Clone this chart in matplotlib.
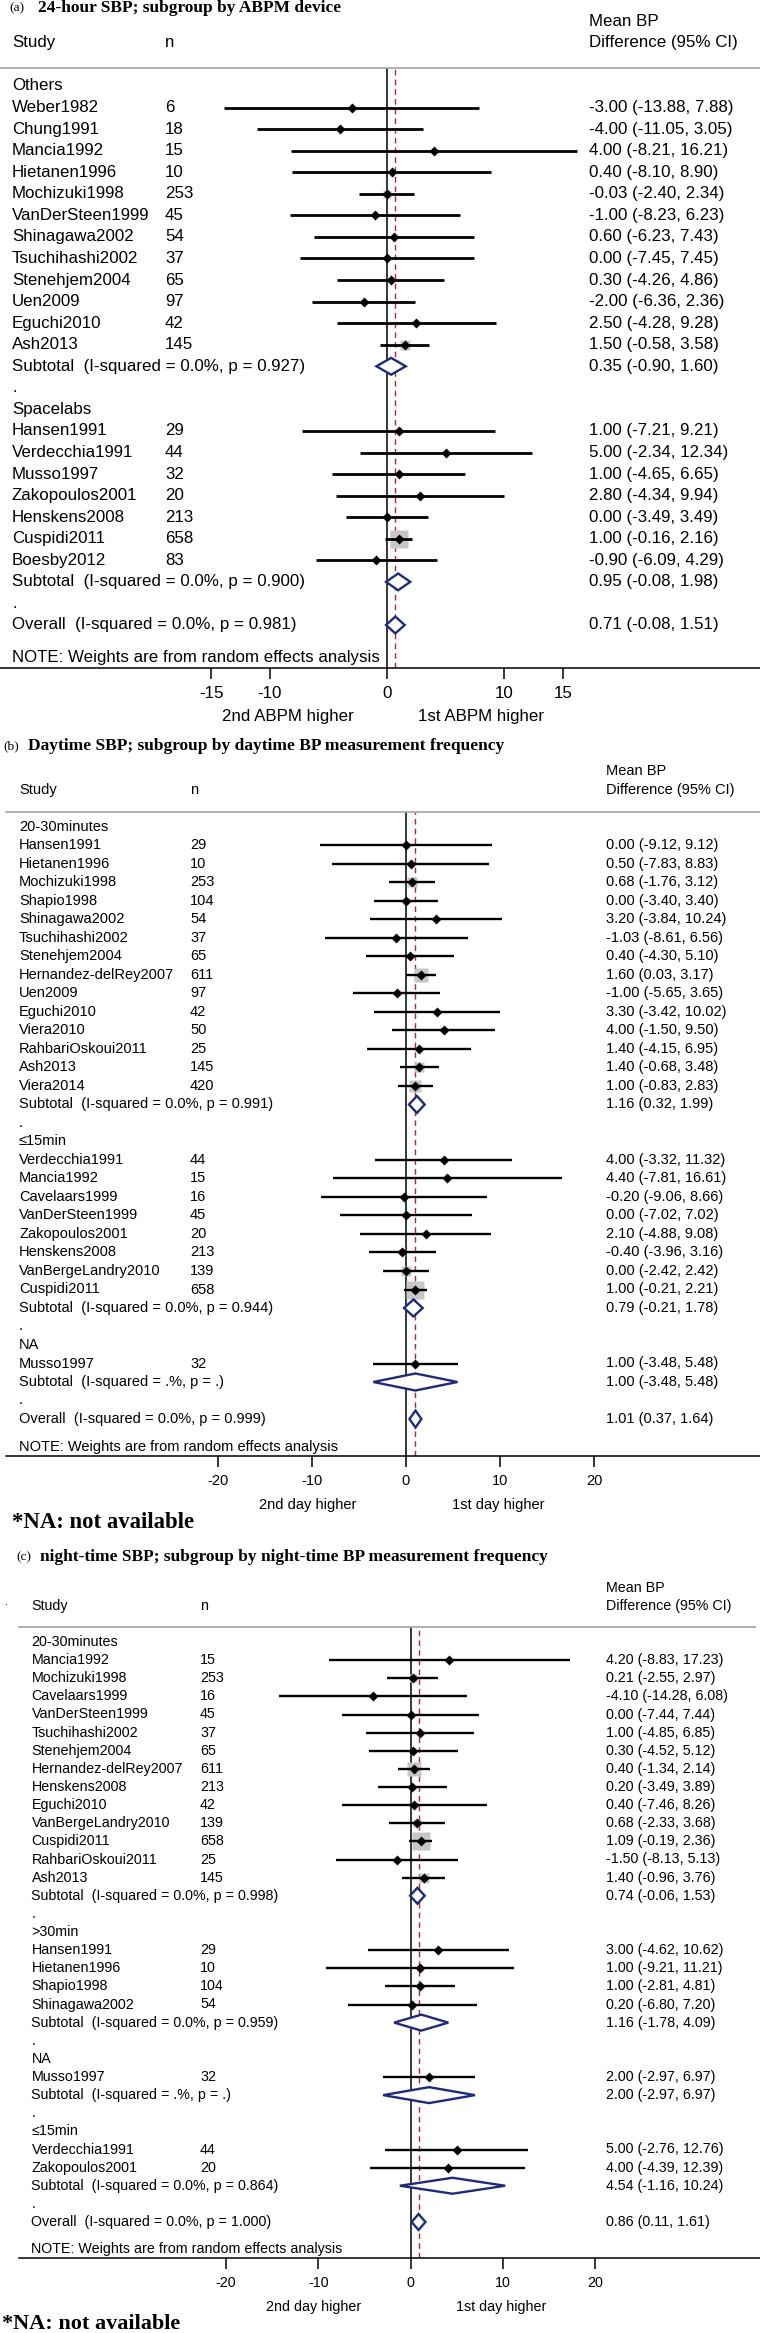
import matplotlib
matplotlib.use('Agg')
import matplotlib.pyplot as plt
from matplotlib.patches import Polygon
from matplotlib.transforms import blended_transform_factory

plt.rcParams['font.family'] = ['Liberation Sans', 'DejaVu Sans']

W, H = 760, 2333

# ---------------- data ----------------
# (study, n, estimate, lower, upper)
A_OTHERS = [
    ("Weber1982", 6, -3.00, -13.88, 7.88),
    ("Chung1991", 18, -4.00, -11.05, 3.05),
    ("Mancia1992", 15, 4.00, -8.21, 16.21),
    ("Hietanen1996", 10, 0.40, -8.10, 8.90),
    ("Mochizuki1998", 253, -0.03, -2.40, 2.34),
    ("VanDerSteen1999", 45, -1.00, -8.23, 6.23),
    ("Shinagawa2002", 54, 0.60, -6.23, 7.43),
    ("Tsuchihashi2002", 37, 0.00, -7.45, 7.45),
    ("Stenehjem2004", 65, 0.30, -4.26, 4.86),
    ("Uen2009", 97, -2.00, -6.36, 2.36),
    ("Eguchi2010", 42, 2.50, -4.28, 9.28),
    ("Ash2013", 145, 1.50, -0.58, 3.58),
]
A_OTHERS_SUB = (0.35, -0.90, 1.60, "0.0%", "0.927")
A_SPACELABS = [
    ("Hansen1991", 29, 1.00, -7.21, 9.21),
    ("Verdecchia1991", 44, 5.00, -2.34, 12.34),
    ("Musso1997", 32, 1.00, -4.65, 6.65),
    ("Zakopoulos2001", 20, 2.80, -4.34, 9.94),
    ("Henskens2008", 213, 0.00, -3.49, 3.49),
    ("Cuspidi2011", 658, 1.00, -0.16, 2.16),
    ("Boesby2012", 83, -0.90, -6.09, 4.29),
]
A_SPACELABS_SUB = (0.95, -0.08, 1.98, "0.0%", "0.900")
A_OVERALL = (0.71, -0.08, 1.51, "0.0%", "0.981")

B_2030 = [
    ("Hansen1991", 29, 0.00, -9.12, 9.12),
    ("Hietanen1996", 10, 0.50, -7.83, 8.83),
    ("Mochizuki1998", 253, 0.68, -1.76, 3.12),
    ("Shapio1998", 104, 0.00, -3.40, 3.40),
    ("Shinagawa2002", 54, 3.20, -3.84, 10.24),
    ("Tsuchihashi2002", 37, -1.03, -8.61, 6.56),
    ("Stenehjem2004", 65, 0.40, -4.30, 5.10),
    ("Hernandez-delRey2007", 611, 1.60, 0.03, 3.17),
    ("Uen2009", 97, -1.00, -5.65, 3.65),
    ("Eguchi2010", 42, 3.30, -3.42, 10.02),
    ("Viera2010", 50, 4.00, -1.50, 9.50),
    ("RahbariOskoui2011", 25, 1.40, -4.15, 6.95),
    ("Ash2013", 145, 1.40, -0.68, 3.48),
    ("Viera2014", 420, 1.00, -0.83, 2.83),
]
B_2030_SUB = (1.16, 0.32, 1.99, "0.0%", "0.991")
B_LE15 = [
    ("Verdecchia1991", 44, 4.00, -3.32, 11.32),
    ("Mancia1992", 15, 4.40, -7.81, 16.61),
    ("Cavelaars1999", 16, -0.20, -9.06, 8.66),
    ("VanDerSteen1999", 45, 0.00, -7.02, 7.02),
    ("Zakopoulos2001", 20, 2.10, -4.88, 9.08),
    ("Henskens2008", 213, -0.40, -3.96, 3.16),
    ("VanBergeLandry2010", 139, 0.00, -2.42, 2.42),
    ("Cuspidi2011", 658, 1.00, -0.21, 2.21),
]
B_LE15_SUB = (0.79, -0.21, 1.78, "0.0%", "0.944")
B_NA = [("Musso1997", 32, 1.00, -3.48, 5.48)]
B_NA_SUB = (1.00, -3.48, 5.48, ".%", ".")
B_OVERALL = (1.01, 0.37, 1.64, "0.0%", "0.999")

C_2030 = [
    ("Mancia1992", 15, 4.20, -8.83, 17.23),
    ("Mochizuki1998", 253, 0.21, -2.55, 2.97),
    ("Cavelaars1999", 16, -4.10, -14.28, 6.08),
    ("VanDerSteen1999", 45, 0.00, -7.44, 7.44),
    ("Tsuchihashi2002", 37, 1.00, -4.85, 6.85),
    ("Stenehjem2004", 65, 0.30, -4.52, 5.12),
    ("Hernandez-delRey2007", 611, 0.40, -1.34, 2.14),
    ("Henskens2008", 213, 0.20, -3.49, 3.89),
    ("Eguchi2010", 42, 0.40, -7.46, 8.26),
    ("VanBergeLandry2010", 139, 0.68, -2.33, 3.68),
    ("Cuspidi2011", 658, 1.09, -0.19, 2.36),
    ("RahbariOskoui2011", 25, -1.50, -8.13, 5.13),
    ("Ash2013", 145, 1.40, -0.96, 3.76),
]
C_2030_SUB = (0.74, -0.06, 1.53, "0.0%", "0.998")
C_GT30 = [
    ("Hansen1991", 29, 3.00, -4.62, 10.62),
    ("Hietanen1996", 10, 1.00, -9.21, 11.21),
    ("Shapio1998", 104, 1.00, -2.81, 4.81),
    ("Shinagawa2002", 54, 0.20, -6.80, 7.20),
]
C_GT30_SUB = (1.16, -1.78, 4.09, "0.0%", "0.959")
C_NA = [("Musso1997", 32, 2.00, -2.97, 6.97)]
C_NA_SUB = (2.00, -2.97, 6.97, ".%", ".")
C_LE15 = [
    ("Verdecchia1991", 44, 5.00, -2.76, 12.76),
    ("Zakopoulos2001", 20, 4.00, -4.39, 12.39),
]
C_LE15_SUB = (4.54, -1.16, 10.24, "0.0%", "0.864")
C_OVERALL = (0.86, 0.11, 1.61, "0.0%", "1.000")

TICKS_A = [-15, -10, 0, 10, 15]
TICKS_BC = [-20, -10, 0, 10, 20]

NAVY = '#1f2a78'
RED = '#b3262b'
BOX = '#c6c6c6'


def build_rows(groups, overall):
    rows = []
    for gi, (label, studies, sub) in enumerate(groups):
        if gi > 0:
            rows.append(('dot',))
        rows.append(('group', label))
        for s in studies:
            rows.append(('study',) + s)
        rows.append(('sub',) + sub)
    rows.append(('dot',))
    rows.append(('overall',) + overall)
    return rows


def ci_text(est, lo, hi):
    return f"{est:.2f} ({lo:.2f}, {hi:.2f})"


def draw_panel(fig, rows, cfg):
    first, step, header = cfg['first'], cfg['step'], cfg['header']
    zero, ppu, fs = cfg['zero'], cfg['ppu'], cfg['fs']
    n_over = len(rows) - 1
    bottom_row = n_over + 2
    axis_px = first + bottom_row * step
    ax = fig.add_axes([0, 1 - axis_px / H, 1, (axis_px - header) / H])
    ax.set_xlim(-zero / ppu, (W - zero) / ppu)
    head_row = (header - first) / step
    ax.set_ylim(bottom_row, head_row)
    ax.patch.set_alpha(0)
    for sp in ['top', 'left', 'right']:
        ax.spines[sp].set_visible(False)
    ax.spines['bottom'].set_bounds((cfg['line_from'] - zero) / ppu, (W - zero) / ppu)
    ax.spines['bottom'].set_linewidth(1.1)
    ax.set_yticks([])
    ax.set_xticks(cfg['ticks'])
    ax.set_xticklabels([str(t) for t in cfg['ticks']])
    ax.tick_params(axis='x', direction='out', length=8, width=1.1, pad=5, labelsize=fs)

    ax.axhline(head_row, xmin=cfg['line_from'] / W, xmax=cfg['line_to'] / W,
               color='#a9a9a9', lw=1.3, clip_on=False)
    ax.axvline(0, color='black', lw=1.1, zorder=1)
    overall = rows[-1]
    ax.axvline(overall[1], color=RED, lw=1.0, ls=(0, (4, 3)), zorder=1)

    tr = blended_transform_factory(ax.transAxes, ax.transData)
    xn, xnn, xci = cfg['x_name'] / W, cfg['x_n'] / W, cfg['x_ci'] / W
    kw = dict(transform=tr, va='center', fontsize=fs, clip_on=False)

    ax.text(xn, -2, "Study", **kw)
    ax.text(xnn, -2, "n", **kw)
    ax.text(xci, -3, "Mean BP", **kw)
    ax.text(xci, -2, "Difference (95% CI)", **kw)

    h = cfg['dia_h']
    for i, r in enumerate(rows):
        kind = r[0]
        if kind == 'dot':
            ax.text(xn, i, ".", **kw)
        elif kind == 'group':
            ax.text(xn, i, r[1], **kw)
        elif kind == 'study':
            name, n, est, lo, hi = r[1:]
            se = (hi - lo) / 3.92
            box_px = cfg['box_k'] / se
            ax.plot(est, i, marker='s', ms=box_px * 0.72, color=BOX, mec='none', zorder=2)
            ax.plot([lo, hi], [i, i], color='black', lw=cfg['ci_lw'],
                     solid_capstyle='butt', zorder=3)
            ax.plot(est, i, marker='D', ms=4.6, color='black', mec='none', zorder=4)
            ax.text(xn, i, name, **kw)
            ax.text(xnn, i, str(n), **kw)
            ax.text(xci, i, ci_text(est, lo, hi), **kw)
        else:
            est, lo, hi, i2, p = r[1:]
            poly = Polygon([[lo, i], [est, i - h], [hi, i], [est, i + h]], closed=True,
                           facecolor='white', edgecolor=NAVY, lw=1.7, zorder=4)
            ax.add_patch(poly)
            label = "Subtotal" if kind == 'sub' else "Overall"
            ax.text(xn, i, f"{label}  (I-squared = {i2}, p = {p})", **kw)
            ax.text(xci, i, ci_text(est, lo, hi), **kw)

    ax.text(xn, n_over + 1.5, "NOTE: Weights are from random effects analysis", **kw)
    lab_kw = dict(transform=tr, va='center', ha='center', fontsize=fs, clip_on=False)
    ax.text(cfg['lab_left_x'] / W, n_over + cfg['lab_row'], cfg['lab_left'], **lab_kw)
    ax.text(cfg['lab_right_x'] / W, n_over + cfg['lab_row'], cfg['lab_right'], **lab_kw)
    return ax


def title(fig, x_tag, x_title, y, tag, text, size=12.5):
    fig.text(x_tag / W, 1 - y / H, tag, family='Liberation Serif', fontsize=9.7, va='center')
    fig.text(x_title / W, 1 - y / H, text, family='Liberation Serif', fontweight='bold',
             fontsize=size, va='center')


fig = plt.figure(figsize=(W / 100, H / 100), dpi=100)

rows_a = build_rows([("Others", A_OTHERS, A_OTHERS_SUB),
                     ("Spacelabs", A_SPACELABS, A_SPACELABS_SUB)], A_OVERALL)
rows_b = build_rows([("20-30minutes", B_2030, B_2030_SUB),
                     ("\u226415min", B_LE15, B_LE15_SUB),
                     ("NA", B_NA, B_NA_SUB)], B_OVERALL)
rows_c = build_rows([("20-30minutes", C_2030, C_2030_SUB),
                     (">30min", C_GT30, C_GT30_SUB),
                     ("NA", C_NA, C_NA_SUB),
                     ("\u226415min", C_LE15, C_LE15_SUB)], C_OVERALL)

cfg_a = dict(first=86, step=21.56, header=68, zero=387, ppu=11.73, fs=12.2,
             x_name=12, x_n=165, x_ci=589, line_from=0, line_to=760, ticks=TICKS_A,
             lab_left="2nd ABPM higher", lab_left_x=288,
             lab_right="1st ABPM higher", lab_right_x=481, lab_row=4.25,
             box_k=10.7, ci_lw=2.0, dia_h=0.39)
cfg_b = dict(first=827, step=18.5, header=812, zero=406, ppu=9.4, fs=10.5,
             x_name=19, x_n=190, x_ci=606, line_from=6, line_to=760, ticks=TICKS_BC,
             lab_left="2nd day higher", lab_left_x=308,
             lab_right="1st day higher", lab_right_x=498, lab_row=4.65,
             box_k=11.5, ci_lw=1.7, dia_h=0.46)
cfg_c = dict(first=1642, step=18.125, header=1627, zero=410.6, ppu=9.23, fs=10.3,
             x_name=31.5, x_n=200, x_ci=606, line_from=19, line_to=755, ticks=TICKS_BC,
             lab_left="2nd day higher", lab_left_x=314,
             lab_right="1st day higher", lab_right_x=501, lab_row=4.7,
             box_k=12, ci_lw=1.7, dia_h=0.44)

draw_panel(fig, rows_a, cfg_a)
draw_panel(fig, rows_b, cfg_b)
draw_panel(fig, rows_c, cfg_c)

title(fig, 9, 38, 8, "(a)", "24-hour SBP; subgroup by ABPM device")
title(fig, 3, 28, 746, "(b)", "Daytime SBP; subgroup by daytime BP measurement frequency")
title(fig, 16, 40, 1557, "(c)", "night-time SBP; subgroup by night-time BP measurement frequency")
fig.text(5 / W, 1 - 1602 / H, ".", fontsize=8, va='center')

fig.text(12 / W, 1 - 1523 / H, "*NA: not available", family='Liberation Serif',
         fontweight='bold', fontsize=16.4, va='center')
fig.text(2 / W, 1 - 2324 / H, "*NA: not available", family='Liberation Serif',
         fontweight='bold', fontsize=16, va='center')

fig.savefig("out.png", dpi=100)
